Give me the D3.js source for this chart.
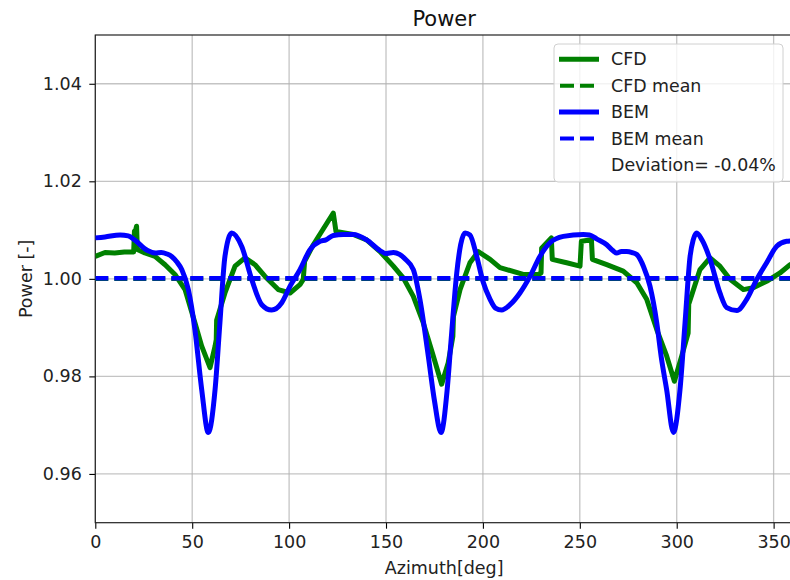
<!DOCTYPE html>
<html>
<head>
<meta charset="utf-8">
<script src="https://cdn.jsdelivr.net/npm/d3@7"></script>
<style>
  body { margin: 0; background: #fff; }
  svg { display: block; font-family: "DejaVu Sans", sans-serif; }
</style>
</head>
<body>
<div id="chart"></div>
<script>
// Azimuth [deg] and normalised power
const cfdAz = [0, 5, 10, 15, 19.8, 20.2, 20.8, 21.3, 21.7, 25.6, 30.8, 36, 41.1, 46.3, 51.4, 54.9, 59.2, 61.8, 62.4, 62.6,
  66.9, 72.1, 77.2, 82.4, 87.6, 94.4, 100.5, 105.6, 107.3, 108.0, 112.5, 122.8, 124.2, 133.1, 140, 146.9, 153.8, 158.9,
  164.1, 169.2, 174.4, 178.7, 182.1, 184.5, 184.8, 188.2, 193.3, 197.6, 203.7, 208.8, 212.3, 220.8, 228.6, 230.0, 230.3,
  235.3, 235.8, 243.2, 250.1, 250.8, 256.0, 256.5, 263.9, 272.4, 279.4, 284.5, 289.7, 294.8, 298.8, 302.6, 305.9, 306.2,
  312.0, 317.2, 322.3, 327.5, 334.4, 339.5, 346.4, 353.3, 358.5, 360];
const cfdPower = [1.0046, 1.0054, 1.0053, 1.0055, 1.0055, 1.0098, 1.0100, 1.0108, 1.0060, 1.0053, 1.0046, 1.0029, 1.0009,
  0.9978, 0.9910, 0.9862, 0.9818, 0.9862, 0.9875, 0.9915, 0.9971, 1.0026, 1.0043, 1.0029, 1.0005, 0.9978, 0.9971, 0.9988,
  0.9999, 1.0036, 1.0070, 1.0135, 1.0097, 1.0091, 1.0080, 1.0056, 1.0026, 1.0002, 0.9964, 0.9910, 0.9842, 0.9784, 0.9828,
  0.9882, 0.9923, 0.9978, 1.0033, 1.0056, 1.0040, 1.0023, 1.0019, 1.0009, 1.0009, 1.0012, 1.0063, 1.0084, 1.0040, 1.0033,
  1.0026, 1.0077, 1.0080, 1.0040, 1.0029, 1.0016, 0.9992, 0.9958, 0.9896, 0.9842, 0.9790, 0.9842, 0.9889, 0.9948, 1.0019,
  1.0043, 1.0026, 0.9999, 0.9978, 0.9982, 0.9995, 1.0012, 1.0029, 1.0032];

const bemAz = [0, 5, 12.8, 17, 20.5, 27, 31, 34, 37, 39.4, 42, 44.6, 48, 51.4, 54.9, 58.3, 61.8, 64.3, 66.9, 70.4, 75.5,
  80.7, 85.9, 91, 96.2, 100.5, 105.6, 110.8, 116, 119, 122.8, 128, 133.1, 140, 146.9, 150, 153.8, 157, 160, 164.1, 167.5,
  171.8, 175, 178.4, 181.5, 183.5, 186.5, 188.5, 190.8, 193.3, 196.8, 200, 203.7, 206.5, 209.7, 214, 219.1, 224.3, 229.4,
  234.6, 241.5, 251.8, 255, 258.7, 263.9, 267, 269, 271.5, 274.2, 277, 279.4, 282.8, 286.2, 289.7, 292, 294.8, 298.3,
  301.7, 304.3, 306.9, 308.5, 310.3, 313, 317.2, 322.3, 325.8, 331, 336.1, 341.3, 346.4, 351.6, 356.7, 360];
const bemPower = [1.0084, 1.0086, 1.0090, 1.0088, 1.0079, 1.0058, 1.0053, 1.0054, 1.0051, 1.0046, 1.0035, 1.0019, 0.9978,
  0.9896, 0.9773, 0.9685, 0.9773, 0.9910, 1.0046, 1.0094, 1.0067, 0.9999, 0.9947, 0.9936, 0.9951, 0.9985, 1.0019, 1.0060,
  1.0077, 1.0080, 1.0089, 1.0091, 1.0091, 1.0080, 1.0058, 1.0052, 1.0054, 1.0050, 1.0040, 1.0019, 0.9958, 0.9842, 0.9750,
  0.9685, 0.9770, 0.9870, 1.0012, 1.0070, 1.0094, 1.0090, 1.0046, 0.9995, 0.9958, 0.9940, 0.9936, 0.9947, 0.9971, 1.0005,
  1.0046, 1.0074, 1.0087, 1.0091, 1.0090, 1.0082, 1.0070, 1.0058, 1.0053, 1.0056, 1.0056, 1.0054, 1.0050, 1.0026, 0.9985,
  0.9910, 0.9840, 0.9773, 0.9685, 0.9773, 0.9910, 1.0046, 1.0080, 1.0094, 1.0080, 1.0040, 0.9971, 0.9941, 0.9935, 0.9958,
  0.9999, 1.0033, 1.0067, 1.0077, 1.0078];

const cfdMean = 1.0000;
const bemMean = 1.0001;
const deviationText = "Deviation= -0.04%";

const xTicks = [0, 50, 100, 150, 200, 250, 300, 350];
const yTicks = [0.96, 0.98, 1.00, 1.02, 1.04];

class PowerChart {
    constructor(parentElement) {
        this.parentElement = parentElement;
        this.cfd = cfdAz.map((a, i) => ({ az: a, p: cfdPower[i] }));
        this.bem = bemAz.map((a, i) => ({ az: a, p: bemPower[i] }));
        this.initVis();
    }

    initVis() {
        const vis = this;

        vis.margin = { top: 35, left: 95.3 };
        vis.width = 697.7;
        vis.height = 487.7;

        vis.svg = d3.select("#" + vis.parentElement)
            .append("svg")
            .attr("width", 790)
            .attr("height", 580);

        vis.g = vis.svg.append("g")
            .attr("transform", `translate(${vis.margin.left},${vis.margin.top})`);

        vis.x = d3.scaleLinear().domain([0, 360]).range([0, vis.width]);
        vis.y = d3.scaleLinear().domain([0.95, 1.05]).range([vis.height, 0]);

        vis.g.append("clipPath").attr("id", "plotClip")
            .append("rect")
            .attr("width", vis.width)
            .attr("height", vis.height);

        vis.drawAxes();
        vis.updateVis();
        vis.createLegend();
    }

    drawAxes() {
        const vis = this;

        // grid
        vis.g.append("g")
            .selectAll("line.vgrid")
            .data(xTicks)
            .join("line")
            .attr("x1", d => vis.x(d)).attr("x2", d => vis.x(d))
            .attr("y1", 0).attr("y2", vis.height)
            .attr("stroke", "#b0b0b0").attr("stroke-opacity", 0.75).attr("stroke-width", 1.3);
        vis.g.append("g")
            .selectAll("line.hgrid")
            .data(yTicks)
            .join("line")
            .attr("x1", 0).attr("x2", vis.width)
            .attr("y1", d => vis.y(d)).attr("y2", d => vis.y(d))
            .attr("stroke", "#b0b0b0").attr("stroke-opacity", 0.75).attr("stroke-width", 1.3);

        const xAxis = vis.g.append("g")
            .attr("transform", `translate(0,${vis.height})`)
            .call(d3.axisBottom(vis.x).tickValues(xTicks).tickSize(6).tickPadding(7).tickFormat(d3.format("d")));
        const yAxis = vis.g.append("g")
            .call(d3.axisLeft(vis.y).tickValues(yTicks).tickSize(6).tickPadding(7.5).tickFormat(d3.format(".2f")));

        [xAxis, yAxis].forEach(ax => {
            ax.select(".domain").remove();
            ax.selectAll(".tick line").attr("stroke", "#000").attr("stroke-width", 1.1);
            ax.selectAll(".tick text").attr("fill", "#222").style("font-size", "17.5px")
                .style("font-family", "DejaVu Sans, sans-serif");
        });

        // spines
        vis.g.append("rect")
            .attr("width", vis.width).attr("height", vis.height)
            .attr("fill", "none").attr("stroke", "#222").attr("stroke-width", 1.2);

        vis.svg.append("text")
            .attr("x", vis.margin.left + vis.width / 2).attr("y", 25.7)
            .attr("text-anchor", "middle")
            .style("font-size", "21px").attr("fill", "#111")
            .text("Power");

        vis.svg.append("text")
            .attr("x", vis.margin.left + vis.width / 2).attr("y", 574)
            .attr("text-anchor", "middle")
            .style("font-size", "17.5px").attr("fill", "#222")
            .text("Azimuth[deg]");

        vis.svg.append("text")
            .attr("transform", `translate(31.5,${vis.margin.top + vis.height / 2}) rotate(-90)`)
            .attr("text-anchor", "middle")
            .style("font-size", "17.5px").attr("fill", "#222")
            .text("Power [-]");
    }

    updateVis() {
        const vis = this;

        const plot = vis.g.append("g").attr("clip-path", "url(#plotClip)");

        const lineLin = d3.line().x(d => vis.x(d.az)).y(d => vis.y(d.p));
        const lineSmooth = d3.line().x(d => vis.x(d.az)).y(d => vis.y(d.p)).curve(d3.curveMonotoneX);

        plot.append("path")
            .datum(vis.cfd)
            .attr("d", lineLin)
            .attr("fill", "none").attr("stroke", "green")
            .attr("stroke-width", 5).attr("stroke-linejoin", "round");

        plot.append("line")
            .attr("x1", vis.x(0)).attr("x2", vis.x(360))
            .attr("y1", vis.y(cfdMean)).attr("y2", vis.y(cfdMean))
            .attr("stroke", "green").attr("stroke-width", 4.5).attr("stroke-dasharray", "13,6");

        plot.append("path")
            .datum(vis.bem)
            .attr("d", lineSmooth)
            .attr("fill", "none").attr("stroke", "blue")
            .attr("stroke-width", 5).attr("stroke-linejoin", "round");

        plot.append("line")
            .attr("x1", vis.x(0)).attr("x2", vis.x(360))
            .attr("y1", vis.y(bemMean)).attr("y2", vis.y(bemMean))
            .attr("stroke", "blue").attr("stroke-width", 4.5).attr("stroke-dasharray", "13,6");
    }

    createLegend() {
        const vis = this;

        const items = [
            { label: "CFD", color: "green", dash: null },
            { label: "CFD mean", color: "green", dash: "14,6" },
            { label: "BEM", color: "blue", dash: null },
            { label: "BEM mean", color: "blue", dash: "14,6" },
            { label: deviationText, color: null, dash: null }
        ];

        const legend = vis.svg.append("g").attr("class", "legend");

        legend.append("rect")
            .attr("x", 554).attr("y", 44)
            .attr("width", 229).attr("height", 138)
            .attr("rx", 4)
            .attr("fill", "#fff").attr("fill-opacity", 0.8)
            .attr("stroke", "#d0d0d0");

        const rows = legend.selectAll(".legend-row")
            .data(items)
            .join("g")
            .attr("class", "legend-row")
            .attr("transform", (d, i) => `translate(0,${59.3 + i * 26.4})`);

        rows.filter(d => d.color)
            .append("line")
            .attr("x1", d => d.dash ? 560 : 559).attr("x2", d => d.dash ? 594 : 599)
            .attr("stroke", d => d.color)
            .attr("stroke-width", d => d.dash ? 4 : 5)
            .attr("stroke-dasharray", d => d.dash);

        rows.append("text")
            .attr("x", 611).attr("dy", "0.35em")
            .style("font-size", "17.4px").attr("fill", "#222")
            .text(d => d.label);
    }
}

new PowerChart("chart");
</script>
</body>
</html>
